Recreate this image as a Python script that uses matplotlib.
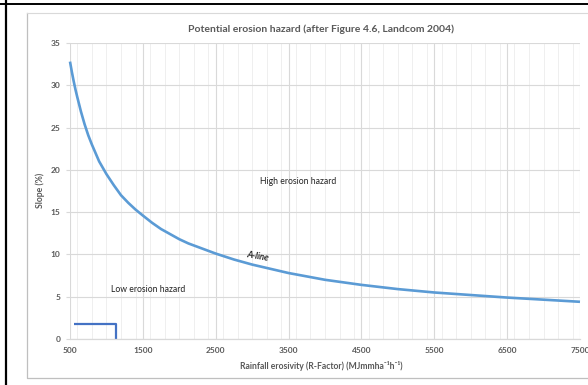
import matplotlib
matplotlib.use("Agg")
import matplotlib.pyplot as plt
from matplotlib.ticker import MultipleLocator
from matplotlib.lines import Line2D

plt.rcParams['font.family'] = ['Lato', 'DejaVu Sans']

# A-line
rainfall = [500, 525, 550, 575, 600, 650, 700, 750, 800, 900, 1000, 1100, 1200, 1300,
            1400, 1500, 1625, 1750, 1875, 2000, 2125, 2250, 2375, 2500, 2750, 3000, 3250,
            3500, 4000, 4500, 5000, 5500, 6000, 6500, 7000, 7500]
slope = [32.8, 31.6, 30.5, 29.5, 28.6, 26.9, 25.4, 24.1, 23.0, 21.0, 19.5, 18.2, 17.0, 16.1,
         15.3, 14.6, 13.75, 13.0, 12.4, 11.8, 11.3, 10.9, 10.5, 10.1, 9.4, 8.8, 8.3,
         7.8, 7.0, 6.4, 5.9, 5.5, 5.2, 4.9, 4.65, 4.4]

# low hazard step
step_r = [550, 1130, 1130]
step_s = [1.8, 1.8, 0]

xticks = [500, 1500, 2500, 3500, 4500, 5500, 6500, 7500]
yticks = [0, 5, 10, 15, 20, 25, 30, 35]

W, H = 588, 385
fig = plt.figure(figsize=(W/100, H/100), dpi=100)

# outer black lines
fig.add_artist(Line2D([6/W, 6/W], [0, 1], color='black', lw=1.6, transform=fig.transFigure))
fig.add_artist(Line2D([0, 1], [1 - 4/H, 1 - 4/H], color='black', lw=1.4, transform=fig.transFigure))
# chart frame (gray)
fig.add_artist(Line2D([27/W, 27/W, 1.01], [1 - 13/H, 1 - 378/H, 1 - 378/H], color='#BFBFBF', lw=0.9, transform=fig.transFigure))
fig.add_artist(Line2D([27/W, 1.01], [1 - 13/H, 1 - 13/H], color='#D9D9D9', lw=0.8, transform=fig.transFigure))

left, right, top, bottom = 70, 580, 43, 339
ax = fig.add_axes([left/W, 1 - bottom/H, (right-left)/W, (bottom-top)/H])
ax.set_xlim(500, 7500)
ax.set_ylim(0, 35)

ax.set_xticks(xticks)
ax.set_yticks(yticks)
ax.xaxis.set_minor_locator(MultipleLocator(200))
ax.grid(which='major', color='#D9D9D9', lw=0.8)
ax.grid(which='minor', axis='x', color='#EFEFEF', lw=0.7)
ax.set_axisbelow(True)
for s in ['top', 'right', 'left']:
    ax.spines[s].set_visible(False)
ax.spines['bottom'].set_color('#D9D9D9')
ax.spines['bottom'].set_linewidth(0.9)
ax.tick_params(axis='y', which='major', length=3, color='#D9D9D9', labelsize=6, labelcolor='#595959', pad=4)
ax.tick_params(axis='x', which='both', length=0, labelsize=6, labelcolor='#595959', pad=6)
for lab in ax.get_xticklabels() + ax.get_yticklabels():
    lab.set_fontweight('bold')

ax.plot(rainfall, slope, color='#5B9BD5', lw=1.9, clip_on=False, solid_capstyle='butt', solid_joinstyle='round')
ax.plot(step_r, step_s, color='#4472C4', lw=1.6, clip_on=False, solid_capstyle='butt')

ax.text(3630, 18.6, 'High erosion hazard', fontsize=6.2, color='#222222', ha='center', va='center')
ax.text(1570, 5.9, 'Low erosion hazard', fontsize=6.2, color='#222222', ha='center', va='center')
ax.text(3080, 9.7, 'A-line', fontsize=6.4, color='#222222', ha='center', va='center',
        fontweight='bold', fontstyle='italic', rotation=-10)

fig.text(321/W, 1 - 29/H, 'Potential erosion hazard (after Figure 4.6, Landcom 2004)',
         fontsize=7.5, fontweight='bold', color='#595959', ha='center', va='center')
fig.text(40/W, 1 - 190/H, 'Slope (%)', fontsize=6.2, fontweight='bold', color='#595959',
         ha='center', va='center', rotation=90)
fig.text(321/W, 1 - 366/H, 'Rainfall erosivity (R-Factor) (MJmmha\u207b\u00b9h\u207b\u00b9)',
         fontsize=6.2, fontweight='bold', color='#595959', ha='center', va='center')

fig.savefig('out.png', dpi=100)
